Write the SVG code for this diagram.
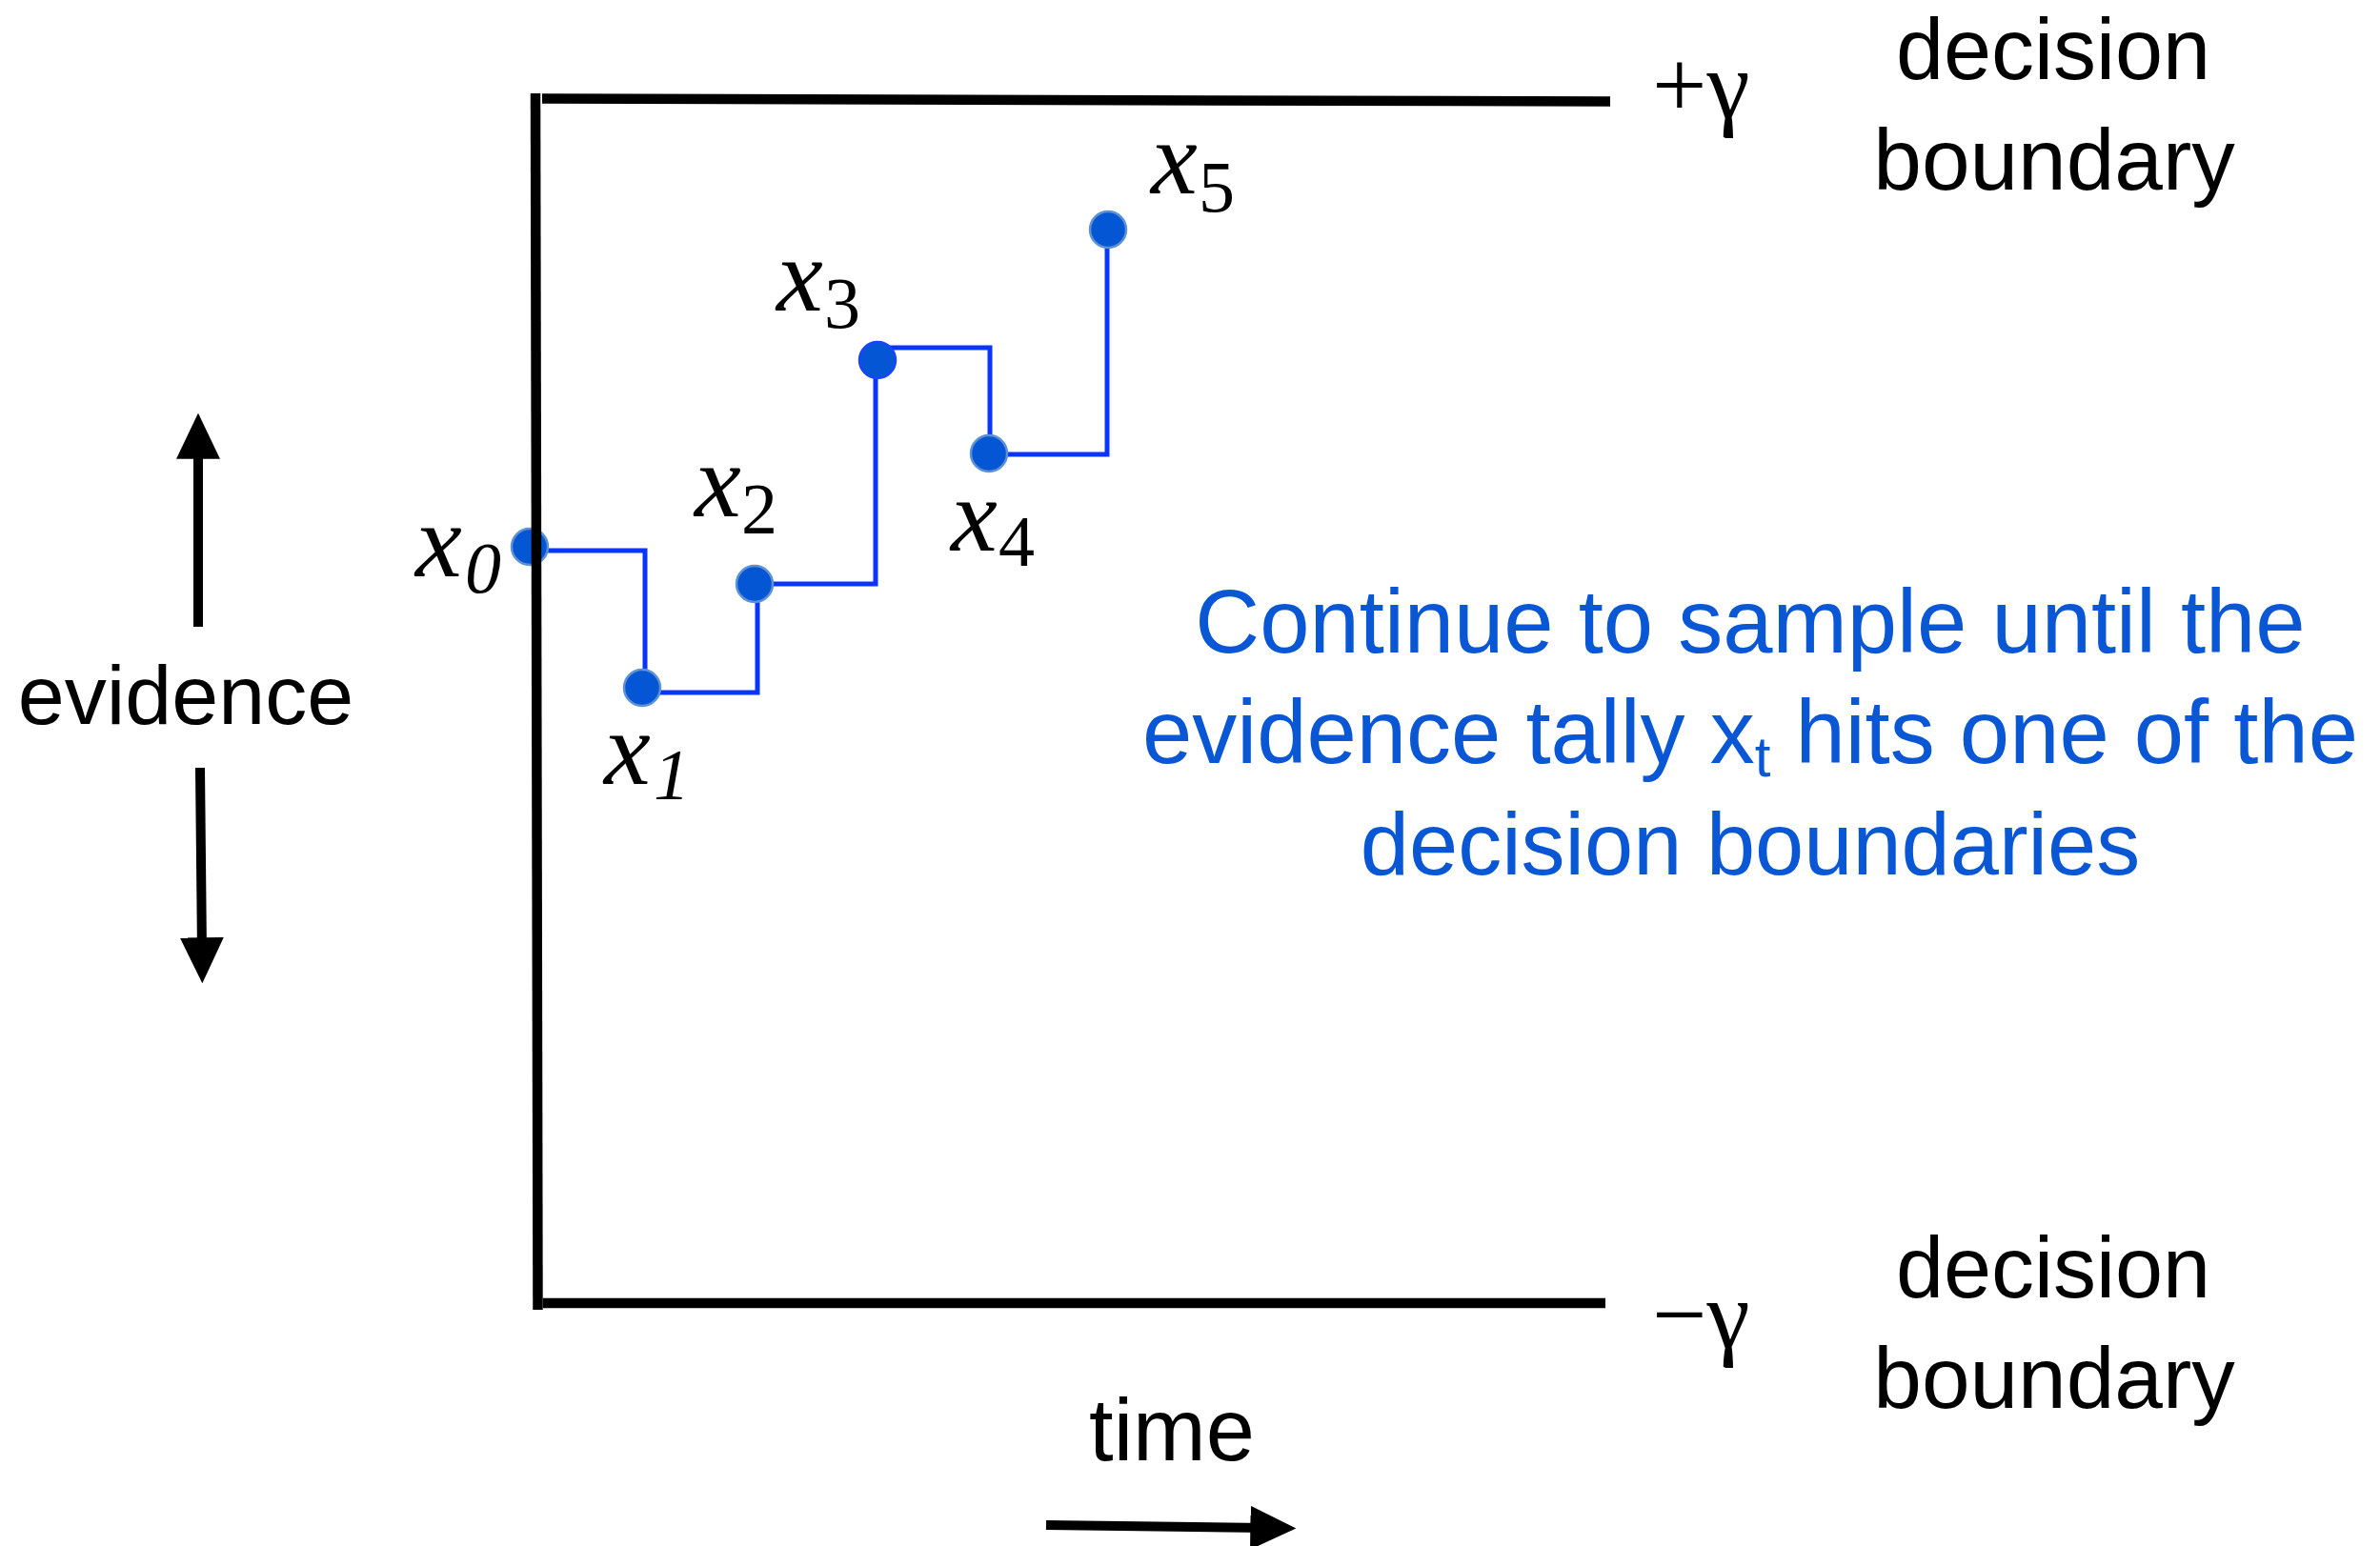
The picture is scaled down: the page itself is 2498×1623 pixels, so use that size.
<svg xmlns="http://www.w3.org/2000/svg" width="2498" height="1623" viewBox="0 0 2498 1623">
<style>
.sans{font-family:"Liberation Sans",Arial,sans-serif;}
.ser{font-family:"Liberation Serif","Times New Roman",serif;}
.lbl{font-family:"Liberation Serif","Times New Roman",serif;fill:#000;}
.xi{font-style:italic;font-size:110px;}
.subi{font-style:italic;font-size:76px;}
.subr{font-style:normal;font-size:76px;}
.dot{fill:#0456d5;stroke:#5e92d2;stroke-width:2.5;}
.step{fill:none;stroke:#0a35ff;stroke-width:5;stroke-linejoin:miter;stroke-linecap:butt;}
.axis{stroke:#000;stroke-width:10.5;fill:none;}
.arr{stroke:#000;stroke-width:10;fill:none;}
.blk{fill:#000;}
.blue{fill:#0a57d6;}
</style>
<defs>
<marker id="ah" markerUnits="userSpaceOnUse" markerWidth="48" markerHeight="48" viewBox="0 0 46 46" refX="15" refY="23" orient="auto">
<path d="M0,1 L46,23 L0,45 z" fill="#000"/>
</marker>
</defs>
<rect width="2498" height="1623" fill="#fff"/>

<g id="connectors">
<path class="step" d="M556,578 H677 V722"/>
<path class="step" d="M674,727 H795 V613"/>
<path class="step" d="M792,613 H919 V378"/>
<path class="step" d="M921,365 H1039 V476"/>
<path class="step" d="M1038,477 H1162 V241"/>
</g>

<g id="node-x0"><circle class="dot" cx="556" cy="574" r="19"/>
<text class="lbl"><tspan class="xi" x="436" y="605">x</tspan><tspan class="subi" x="488" y="622">0</tspan></text></g>
<g id="node-x1"><circle class="dot" cx="674" cy="722" r="19"/>
<text class="lbl"><tspan class="xi" x="634" y="823">x</tspan><tspan class="subi" x="686" y="839">1</tspan></text></g>
<g id="node-x2"><circle class="dot" cx="792" cy="613" r="19"/>
<text class="lbl"><tspan class="xi" x="729" y="542">x</tspan><tspan class="subr" x="778" y="560">2</tspan></text></g>
<g id="node-x3"><circle class="dot" cx="921" cy="378" r="19" style="stroke:#1a44ff"/>
<text class="lbl"><tspan class="xi" x="815" y="326">x</tspan><tspan class="subr" x="865" y="344">3</tspan></text></g>
<g id="node-x4"><circle class="dot" cx="1038" cy="476" r="19"/>
<text class="lbl"><tspan class="xi" x="998" y="578">x</tspan><tspan class="subr" x="1048" y="594">4</tspan></text></g>
<g id="node-x5"><circle class="dot" cx="1163" cy="241" r="19"/>
<text class="lbl"><tspan class="xi" x="1208" y="203">x</tspan><tspan class="subr" x="1258" y="222">5</tspan></text></g>

<g id="axes">
<line class="axis" x1="562" y1="98" x2="564.5" y2="1375"/>
<line class="axis" x1="569" y1="103.5" x2="1690" y2="106.5"/>
<line class="axis" x1="570" y1="1368" x2="1685" y2="1368"/>
</g>

<g id="boundary-labels">
<text class="ser blk" x="1734" y="123" font-size="102">+γ</text>
<text class="ser blk" x="1734" y="1414" font-size="102">−γ</text>
<text class="sans blk" x="2155" y="83" font-size="90" text-anchor="middle">decision</text>
<text class="sans blk" x="2156" y="199" font-size="91" text-anchor="middle">boundary</text>
<text class="sans blk" x="2155" y="1362" font-size="90" text-anchor="middle">decision</text>
<text class="sans blk" x="2156" y="1478" font-size="91" text-anchor="middle">boundary</text>
</g>

<g id="evidence-axis">
<line class="arr" x1="208" y1="658" x2="208" y2="466" marker-end="url(#ah)"/>
<line class="arr" x1="210" y1="806" x2="212" y2="1000" marker-end="url(#ah)"/>
<text class="sans blk" x="195" y="760" font-size="88" text-anchor="middle">evidence</text>
</g>

<g id="time-axis">
<text class="sans blk" x="1230" y="1533" font-size="92" text-anchor="middle">time</text>
<line class="arr" x1="1098" y1="1601" x2="1328" y2="1604" marker-end="url(#ah)"/>
</g>

<g id="note">
<text class="sans blue" x="1837" y="685" font-size="94" text-anchor="middle">Continue to sample until the</text>
<text class="sans blue" x="1837" y="801" font-size="94" text-anchor="middle">evidence tally x<tspan font-size="60" dy="14">t</tspan><tspan dy="-14"> hits one of the</tspan></text>
<text class="sans blue" x="1837" y="918" font-size="92" text-anchor="middle">decision boundaries</text>
</g>
</svg>
